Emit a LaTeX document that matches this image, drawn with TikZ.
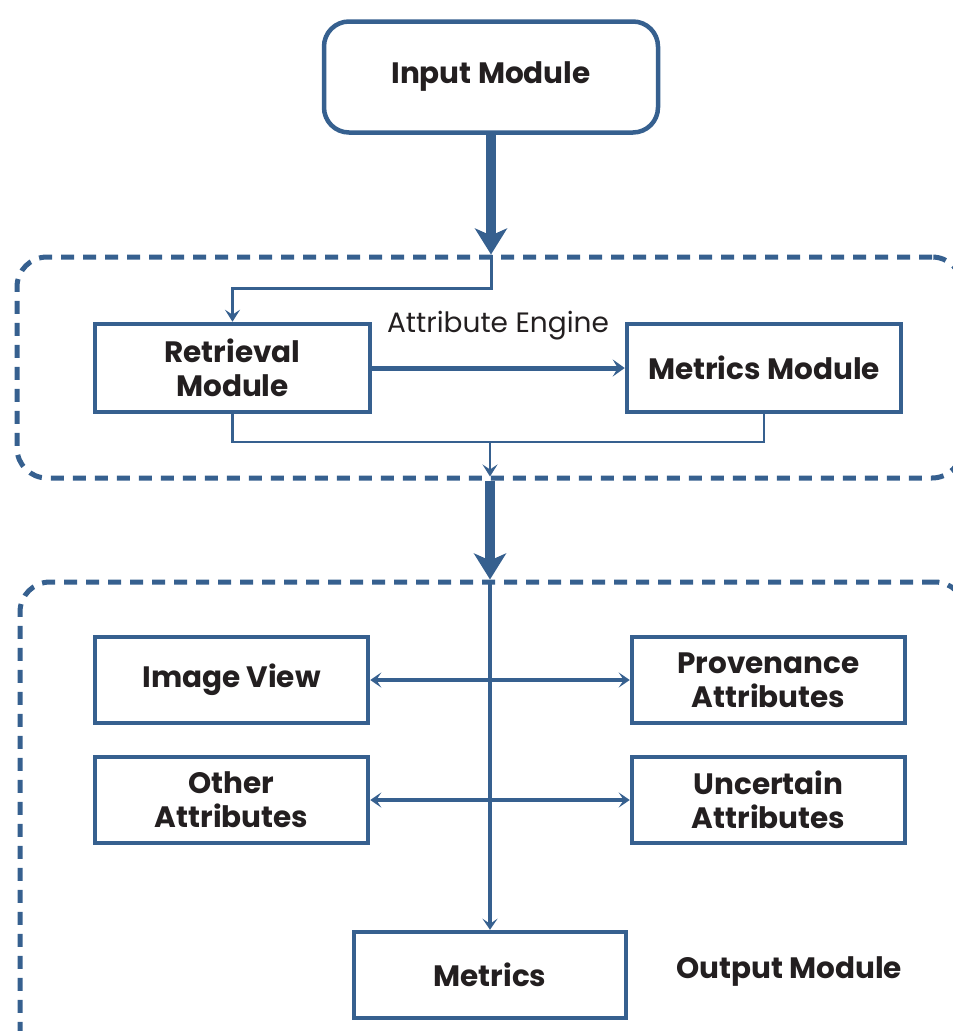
\documentclass[tikz,border=0pt]{standalone}
\usepackage{fontspec}
\setmainfont{Poppins}
\usetikzlibrary{arrows.meta,calc}
\definecolor{blu}{HTML}{36608F}
\definecolor{txt}{HTML}{231F20}
\tikzset{
  box/.style={draw=blu, line width=4.5pt, fill=white, inner sep=0pt, align=center,
    text=txt, font=\fontsize{29.5}{34}\selectfont\bfseries},
  grp/.style={draw=blu, line width=5pt, rounded corners=30pt, inner sep=0pt,
    dash pattern=on 13pt off 9pt},
  thick arrow/.style={draw=blu, line width=10pt, -{Stealth[length=26pt,width=32pt,inset=7pt]}},
  thin arrow/.style={draw=blu, line width=3pt, -{Stealth[length=12pt,width=15pt,inset=5pt]}},
  mid arrow/.style={draw=blu, line width=5pt, -{Stealth[length=12pt,width=17pt,inset=5pt]}},
  dbl arrow/.style={draw=blu, line width=4pt, {Stealth[length=11pt,width=15pt,inset=5pt]}-{Stealth[length=11pt,width=15pt,inset=5pt]}},
  link/.style={draw=blu, line width=2.5pt},
  lbl/.style={text=txt, inner sep=0pt},
}
\begin{document}
\begin{tikzpicture}[x=1pt,y=-1pt]
\useasboundingbox (0,0) rectangle (953,1031);
\clip (0,0) rectangle (953,1031);
% groups
\node[grp, minimum width=945pt, minimum height=221pt] (engine) at (489.5,367.5) {};
\node[grp, minimum width=945pt, minimum height=480pt] (output) at (492.5,822) {};
% boxes
\node[box, rounded corners=25pt, minimum width=334pt, minimum height=111pt] (in) at (491,77) {Input Module};
\node[box, minimum width=275pt, minimum height=88pt] (ret) at (232.5,368) {Retrieval\\Module};
\node[box, minimum width=274pt, minimum height=88pt] (met) at (764,368) {Metrics Module};
\node[box, minimum width=273pt, minimum height=86pt] (img) at (231.5,680) {Image View};
\node[box, minimum width=273pt, minimum height=86pt] (prov) at (768.5,680) {Provenance\\Attributes};
\node[box, minimum width=273pt, minimum height=86pt] (oth) at (231.5,800) {Other\\Attributes};
\node[box, minimum width=273pt, minimum height=86pt] (unc) at (768.5,800) {Uncertain\\Attributes};
\node[box, minimum width=272pt, minimum height=86pt] (metr) at (490,975) {Metrics};
% labels
\node[lbl, font=\fontsize{28}{32}\selectfont] (ae) at (498,326) {Attribute Engine};
\node[lbl, font=\fontsize{29.5}{34}\selectfont\bfseries] (om) at (789,971) {Output Module};
% connectors
\coordinate (split) at (491,288);
\draw[thick arrow] (in.south) -- (in.south |- engine.north);
\draw[thin arrow] (in.south |- engine.north) -- (split) -| (ret.north);
\draw[mid arrow] (ret.east) -- (met.west);
\coordinate (merge) at (490,442);
\draw[link] (ret.south) |- (merge) -| (met.south);
\draw[thin arrow, line width=2.5pt] (merge) -- ($(merge |- engine.south)+(0,-4)$);
\draw[thick arrow] (merge |- engine.south) -- (merge |- output.north);
\draw[draw=blu, line width=4pt, -{Stealth[length=11pt,width=15pt,inset=5pt]}] (merge |- output.north) -- (metr.north);
\draw[dbl arrow] (img.east) -- (prov.west);
\draw[dbl arrow] (oth.east) -- (unc.west);
\end{tikzpicture}
\end{document}
